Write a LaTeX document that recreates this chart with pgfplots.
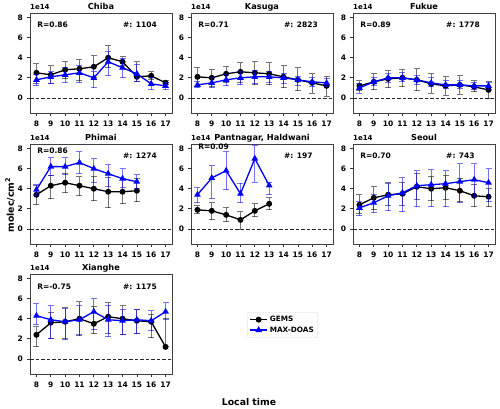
\documentclass[border=0pt]{standalone}
\usepackage{pgfplots}
\pgfplotsset{compat=1.18}
\usepackage{pgfplotstable}
\usepackage{fontspec}
\setmainfont{DejaVu Sans}
\definecolor{mplblue}{RGB}{0,0,255}

% x = local hour, g = GEMS, gl/gu = GEMS bar bounds, m = MAX-DOAS, ml/mu = its bounds
\pgfplotstableread{
x g gl gu m ml mu
8 2.5 1.4 3.4 1.8 1.2 2.3
9 2.3 1.4 3.2 2.1 1.4 2.6
10 2.8 1.9 3.6 2.3 1.5 3.0
11 2.9 1.7 3.8 2.5 1.5 3.2
12 3.1 2.0 4.2 2.0 1.0 2.6
13 4.0 3.0 5.2 3.6 2.2 4.6
14 3.6 3.2 4.1 3.0 2.0 3.9
15 2.1 1.6 3.6 2.4 1.6 3.3
16 2.2 1.8 2.6 1.4 0.8 2.0
17 1.5 1.3 1.7 1.2 0.8 1.5
}\tabChiba
\pgfplotstableread{
x g gl gu m ml mu
8 2.1 1.1 3.0 1.3 1.0 1.6
9 2.0 1.1 2.8 1.5 1.0 2.0
10 2.4 1.5 3.1 1.8 1.2 2.3
11 2.6 1.5 3.5 2.0 1.3 2.6
12 2.5 1.3 3.6 2.1 1.4 2.7
13 2.4 1.3 3.5 2.1 1.5 2.6
14 2.1 1.0 3.2 2.0 1.4 2.4
15 1.8 0.7 3.0 1.8 1.2 2.1
16 1.5 0.5 2.4 1.6 1.1 2.0
17 1.2 0.2 2.1 1.5 1.1 1.9
}\tabKasuga
\pgfplotstableread{
x g gl gu m ml mu
8 1.2 0.7 1.7 1.0 0.5 1.4
9 1.6 0.8 2.4 1.6 1.2 2.0
10 1.9 1.0 2.7 2.0 1.5 2.4
11 2.0 1.1 2.8 2.0 1.6 2.5
12 1.8 0.7 2.9 1.8 1.3 2.2
13 1.4 0.5 2.4 1.5 1.1 2.0
14 1.2 0.3 2.1 1.3 0.9 1.7
15 1.3 0.4 2.2 1.3 0.9 1.7
16 1.1 0.6 1.7 1.2 0.8 1.5
17 0.8 0.0 1.6 1.2 0.8 1.5
}\tabFukue
\pgfplotstableread{
x g gl gu m ml mu
8 3.4 2.4 4.3 3.9 3.3 4.4
9 4.3 3.0 5.3 6.2 5.3 7.1
10 4.6 3.6 5.5 6.2 5.4 7.1
11 4.3 3.3 5.2 6.6 5.5 7.7
12 4.0 2.8 5.2 6.0 4.6 7.0
13 3.7 2.1 5.1 5.5 4.2 6.4
14 3.7 2.5 5.0 5.0 4.1 6.0
15 3.8 2.7 5.0 4.7 4.0 5.4
}\tabPhimai
\pgfplotstableread{
x g gl gu m ml mu
8 1.9 1.5 2.3 3.4 2.6 4.1
9 1.8 0.9 2.6 5.07 3.0 6.3
10 1.4 0.7 2.1 5.8 3.9 7.67
11 0.9 0.0 1.7 3.5 2.6 4.57
12 1.8 1.2 2.5 7.0 4.67 8.3
13 2.5 1.9 3.1 4.33 3.4 4.6
}\tabPant
\pgfplotstableread{
x g gl gu m ml mu
8 2.4 1.5 3.4 2.1 1.3 2.7
9 3.1 1.9 4.2 2.6 1.6 3.4
10 3.4 2.3 4.6 3.3 1.8 4.5
11 3.5 2.3 4.6 3.6 1.7 5.1
12 4.2 2.9 5.5 4.3 2.2 5.8
13 4.0 2.8 5.2 4.4 2.2 5.9
14 4.1 2.9 5.3 4.5 2.2 5.8
15 3.8 2.7 5.0 4.7 2.6 6.5
16 3.3 2.2 4.4 4.9 3.2 6.5
17 3.2 2.2 4.0 4.6 2.7 6.0
}\tabSeoul
\pgfplotstableread{
x g gl gu m ml mu
8 2.4 1.2 3.2 4.3 3.4 5.5
9 3.6 2.0 4.6 3.9 2.0 5.3
10 3.7 2.0 5.1 3.7 1.9 5.0
11 4.0 2.3 5.7 3.9 2.4 5.3
12 3.5 2.5 5.2 4.7 2.9 6.0
13 4.2 2.5 5.6 3.9 2.2 5.3
14 4.0 2.4 5.3 3.8 2.4 4.9
15 3.8 2.5 4.9 3.9 2.5 4.9
16 3.7 2.1 4.4 3.8 2.8 4.8
17 1.2 1.2 4.0 4.7 3.9 5.6
}\tabXiang

\pgfplotsset{
  panel/.style={
    scale only axis, width=142pt, height=100pt, anchor=south west,
    xmin=7.55, xmax=17.45, ymin=-1.5, ymax=8.45,
    xtick={8,...,17}, ytick={0,2,4,6,8},
    tick pos=left, tick align=outside, major tick length=3pt,
    tick style={black!80, line width=0.7pt},
    axis line style={black!75, line width=0.9pt},
    ticklabel style={font=\bfseries\fontsize{7.5}{9}\selectfont},
    xticklabel style={yshift=-1pt},
    yticklabel style={xshift=-0.5pt},
    /pgf/number format/assume math mode=true,
    clip mode=individual,
  },
  gems/.style={black, line width=1.3pt, mark=*, mark size=2.3pt, mark options={solid},
    error bars/.cd, y dir=both, y explicit,
    error bar style={black, opacity=0.55, line width=0.8pt},
    error mark options={rotate=90, black, opacity=0.55, line width=0.8pt, mark size=3pt}},
  maxd/.style={mplblue, line width=1.3pt, mark=triangle*, mark size=2.6pt, mark options={solid},
    error bars/.cd, y dir=both, y explicit,
    error bar style={mplblue, opacity=0.55, line width=0.8pt},
    error mark options={rotate=90, mplblue, opacity=0.55, line width=0.8pt, mark size=3pt}},
}

\newcommand\series[1]{%
  \addplot[black!85, dash pattern=on 3.5pt off 2pt, line width=0.8pt, forget plot] coordinates {(7.55,0) (17.45,0)};
  \addplot[gems] table[x=x, y=g, y error plus expr=\thisrow{gu}-\thisrow{g}, y error minus expr=\thisrow{g}-\thisrow{gl}] {#1};
  \addplot[maxd] table[x=x, y=m, y error plus expr=\thisrow{mu}-\thisrow{m}, y error minus expr=\thisrow{m}-\thisrow{ml}] {#1};
}
\newcommand\annot[5]{%
  \node[anchor=south west, font=\bfseries\fontsize{7}{8}\selectfont, inner sep=0pt, yshift=3.5pt] at (rel axis cs:0,1) {1e14};
  \node[anchor=base, font=\bfseries\fontsize{8.2}{10}\selectfont, inner sep=0pt, yshift=4pt] at (rel axis cs:0.5,1) {#1};
  \node[anchor=west, font=\bfseries\fontsize{7.5}{9}\selectfont, inner sep=0pt] at (rel axis cs:0.05,#4) {#2};
  \node[anchor=west, font=\bfseries\fontsize{7.5}{9}\selectfont, inner sep=0pt] at (rel axis cs:0.655,#5) {\#: #3};
}

\begin{document}
\begin{tikzpicture}
\useasboundingbox (0,0) rectangle (500pt,408pt);
% row 1
\begin{axis}[panel, at={(30pt,295pt)}]
  \series{\tabChiba}
  \annot{Chiba}{R=0.86}{1104}{0.88}{0.88}
\end{axis}
\begin{axis}[panel, at={(191pt,295pt)}]
  \series{\tabKasuga}
  \annot{Kasuga}{R=0.71}{2823}{0.88}{0.88}
\end{axis}
\begin{axis}[panel, at={(353pt,295pt)}]
  \series{\tabFukue}
  \annot{Fukue}{R=0.89}{1778}{0.88}{0.88}
\end{axis}
% row 2
\begin{axis}[panel, at={(30pt,164pt)}]
  \series{\tabPhimai}
  \annot{Phimai}{R=0.86}{1274}{0.93}{0.88}
\end{axis}
\begin{axis}[panel, at={(191pt,164pt)}]
  \series{\tabPant}
  \annot{Pantnagar, Haldwani}{R=0.09}{197}{0.97}{0.88}
\end{axis}
\begin{axis}[panel, at={(353pt,164pt)}]
  \series{\tabSeoul}
  \annot{Seoul}{R=0.70}{743}{0.88}{0.88}
\end{axis}
% row 3
\begin{axis}[panel, at={(30pt,34pt)},
  legend style={at={(1.53,0.62)}, anchor=north west, draw=black!15, rounded corners=2pt,
    font=\bfseries\fontsize{7.3}{9}\selectfont, inner sep=2pt, row sep=-0.5pt},
  legend cell align=left]
  \series{\tabXiang}
  \legend{GEMS, MAX-DOAS}
  \annot{Xianghe}{R=-0.75}{1175}{0.875}{0.875}
\end{axis}
\node[rotate=90, font=\bfseries\fontsize{9.3}{11}\selectfont] at (10pt,203pt) {molec/cm\textsuperscript{2}};
\node[font=\bfseries\fontsize{9.3}{11}\selectfont] at (249pt,6pt) {Local time};
\end{tikzpicture}
\end{document}
